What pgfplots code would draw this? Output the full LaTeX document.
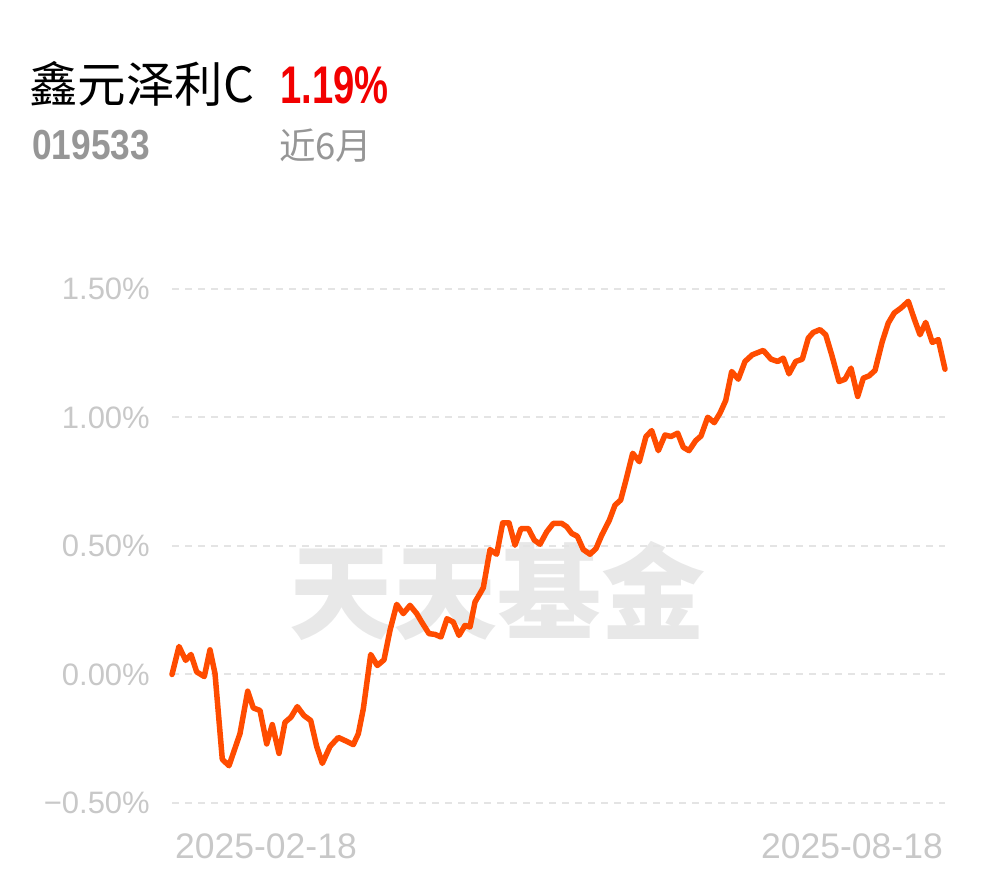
\documentclass[border=0pt]{standalone}
\usepackage{pgfplots}
\pgfplotsset{compat=1.18}
\usepackage{fontspec}
\setmainfont{Liberation Sans}
\newfontfamily\cjk{Noto Sans CJK SC}
\definecolor{lineorange}{RGB}{255,76,0}
\definecolor{gridgray}{RGB}{228,228,228}
\definecolor{ticklab}{RGB}{200,200,200}
\definecolor{subgray}{RGB}{150,150,150}
\definecolor{wmgray}{RGB}{232,232,232}
\definecolor{titlered}{RGB}{242,0,0}
\begin{document}
\begin{tikzpicture}
\useasboundingbox (0,0) rectangle (990pt,878pt);
% header texts
\node[anchor=base west, inner sep=0pt, font=\cjk\fontsize{48.5}{48.5}\selectfont] at (29pt,775pt) {鑫元泽利C};
\node[anchor=base west, inner sep=0pt, text=titlered] at (280pt,774pt) {\scalebox{0.72}[1]{\fontsize{53}{53}\selectfont\bfseries 1.19\%}};
\node[anchor=base west, inner sep=0pt, text=subgray] at (32pt,718pt) {\scalebox{0.84}[1]{\fontsize{42}{42}\selectfont\bfseries 019533}};
\node[anchor=base west, inner sep=0pt, text=subgray, font=\cjk\fontsize{36.5}{36.5}\selectfont] at (279pt,718pt) {近6月};
% watermark
\node[anchor=center, inner sep=0pt, text=wmgray, font=\cjk\bfseries\fontsize{104}{104}\selectfont] at (497pt,287pt) {天天基金};
\begin{axis}[
  at={(172pt,75pt)}, anchor=south west,
  scale only axis, width=773pt, height=514pt,
  xmin=0, xmax=773, ymin=-0.5, ymax=1.5,
  axis line style={draw=none},
  clip=false,
  xtick=\empty,
  ytick={-0.5,0,0.5,1,1.5},
  yticklabels={{−0.50\%},{0.00\%},{0.50\%},{1.00\%},{1.50\%}},
  major tick length=0pt,
  ymajorgrids,
  major grid style={draw=gridgray, line width=2pt, dash pattern=on 7pt off 6pt},
  yticklabel style={font=\fontsize{31}{31}\selectfont, text=ticklab, anchor=east, inner sep=0pt, xshift=-22pt},
]
\addplot[color=lineorange, line width=5.5pt, line join=round, line cap=round] table {
x y
0.0 0.000
7.0 0.109
13.7 0.055
19.0 0.078
24.7 0.010
32.3 -0.008
38.0 0.096
43.0 0.004
50.3 -0.330
57.0 -0.355
68.0 -0.230
75.7 -0.065
81.3 -0.130
88.0 -0.140
94.7 -0.270
100.3 -0.195
107.0 -0.307
113.0 -0.186
119.0 -0.166
125.3 -0.125
132.0 -0.160
138.7 -0.179
144.7 -0.280
150.3 -0.346
158.0 -0.280
166.3 -0.245
173.0 -0.257
181.3 -0.273
186.3 -0.231
191.3 -0.134
198.7 0.078
205.3 0.035
212.0 0.057
218.0 0.172
224.7 0.273
231.3 0.237
238.0 0.269
244.7 0.237
249.7 0.204
257.0 0.159
263.0 0.156
269.0 0.146
275.0 0.217
281.3 0.204
287.0 0.152
293.0 0.191
298.0 0.185
303.0 0.282
308.0 0.315
311.3 0.338
318.0 0.486
324.7 0.468
330.7 0.590
337.0 0.590
343.0 0.503
349.0 0.568
356.3 0.568
362.3 0.523
368.0 0.507
374.7 0.555
381.3 0.588
389.7 0.588
394.7 0.575
399.7 0.549
405.3 0.538
411.3 0.486
418.0 0.468
424.0 0.490
429.7 0.542
437.3 0.600
443.0 0.659
448.7 0.679
454.0 0.757
460.7 0.861
467.3 0.828
474.0 0.926
479.7 0.949
486.3 0.871
493.0 0.932
499.0 0.926
505.7 0.939
511.3 0.884
517.0 0.871
523.7 0.910
529.0 0.928
535.7 1.001
542.3 0.980
548.0 1.017
553.7 1.066
559.7 1.179
566.3 1.149
573.0 1.218
580.3 1.244
591.3 1.261
599.0 1.227
605.7 1.218
611.3 1.231
617.0 1.170
623.7 1.218
630.3 1.227
636.3 1.309
641.3 1.331
648.0 1.342
653.7 1.322
659.7 1.244
667.0 1.140
673.0 1.149
679.0 1.192
685.7 1.082
691.3 1.153
697.0 1.162
703.0 1.183
710.3 1.296
716.3 1.368
722.3 1.407
729.0 1.426
736.3 1.452
742.3 1.383
748.0 1.322
753.7 1.370
760.3 1.292
766.3 1.303
773.0 1.188
};
\node[anchor=base west, inner sep=0pt, text=ticklab, font=\fontsize{35.5}{35.5}\selectfont] at ([xshift=3pt,yshift=-55pt]rel axis cs:0,0) {2025-02-18};
\node[anchor=base east, inner sep=0pt, text=ticklab, font=\fontsize{35.5}{35.5}\selectfont] at ([xshift=-2pt,yshift=-55pt]rel axis cs:1,0) {2025-08-18};
\end{axis}
\end{tikzpicture}
\end{document}
